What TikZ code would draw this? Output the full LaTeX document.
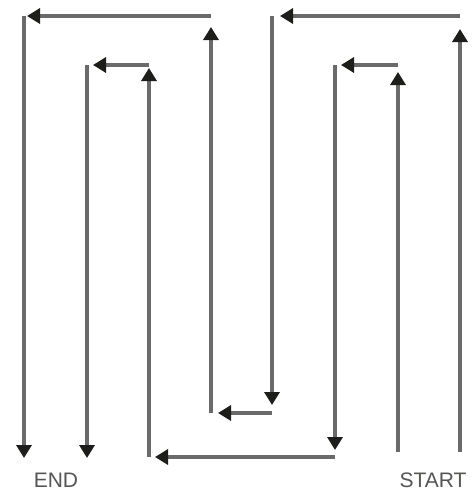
\documentclass[tikz,border=0pt]{standalone}
\usepackage{fontspec}
\setsansfont{Liberation Sans}
\definecolor{snakeGrey}{HTML}{6A6A6A}
\definecolor{snakeBlack}{HTML}{1D1D1B}
\usetikzlibrary{arrows.meta, positioning}
\tikzset{
    route line/.style={draw=snakeGrey, line width=3.5pt, -{Triangle[length=13pt, width=15pt, color=snakeBlack]}},
    end label/.style={font=\sffamily\fontsize{21}{21}\selectfont, text=snakeBlack!75, inner sep=0pt},
}
\begin{document}
\begin{tikzpicture}[x=1pt, y=-1pt]
    \useasboundingbox (0,0) rectangle (472,496);
    % outer route
    \coordinate (o0) at (460,452);
    \coordinate (o1) at (460,16);
    \coordinate (o2) at (272,16);
    \coordinate (o3) at (272,413);
    \coordinate (o4) at (211,413);
    \coordinate (o5) at (211,16);
    \coordinate (o6) at (24,16);
    \coordinate (o7) at (24,458);
    % inner route
    \coordinate (i0) at (398,452);
    \coordinate (i1) at (398,65);
    \coordinate (i2) at (335,65);
    \coordinate (i3) at (335,457);
    \coordinate (i4) at (149,457);
    \coordinate (i5) at (149,65);
    \coordinate (i6) at (87,65);
    \coordinate (i7) at (87,458);

    \draw[route line, shorten >=13pt] (o0) -- (o1);
    \draw[route line, shorten >=8pt] (o1) -- (o2);
    \draw[route line, shorten >=8pt] (o2) -- (o3);
    \draw[route line, shorten >=7pt] (o3) -- (o4);
    \draw[route line, shorten >=11pt] (o4) -- (o5);
    \draw[route line, shorten >=3pt] (o5) -- (o6);
    \draw[route line] (o6) -- (o7);

    \draw[route line, shorten >=7pt] (i0) -- (i1);
    \draw[route line, shorten >=6pt] (i1) -- (i2);
    \draw[route line, shorten >=7pt] (i2) -- (i3);
    \draw[route line, shorten >=6pt] (i3) -- (i4);
    \draw[route line, shorten >=3pt] (i4) -- (i5);
    \draw[route line, shorten >=6pt] (i5) -- (i6);
    \draw[route line] (i6) -- (i7);

    \node[end label] (end) at (56,480) {END};
    \node[end label] (start) at (433,480) {START};
\end{tikzpicture}
\end{document}
